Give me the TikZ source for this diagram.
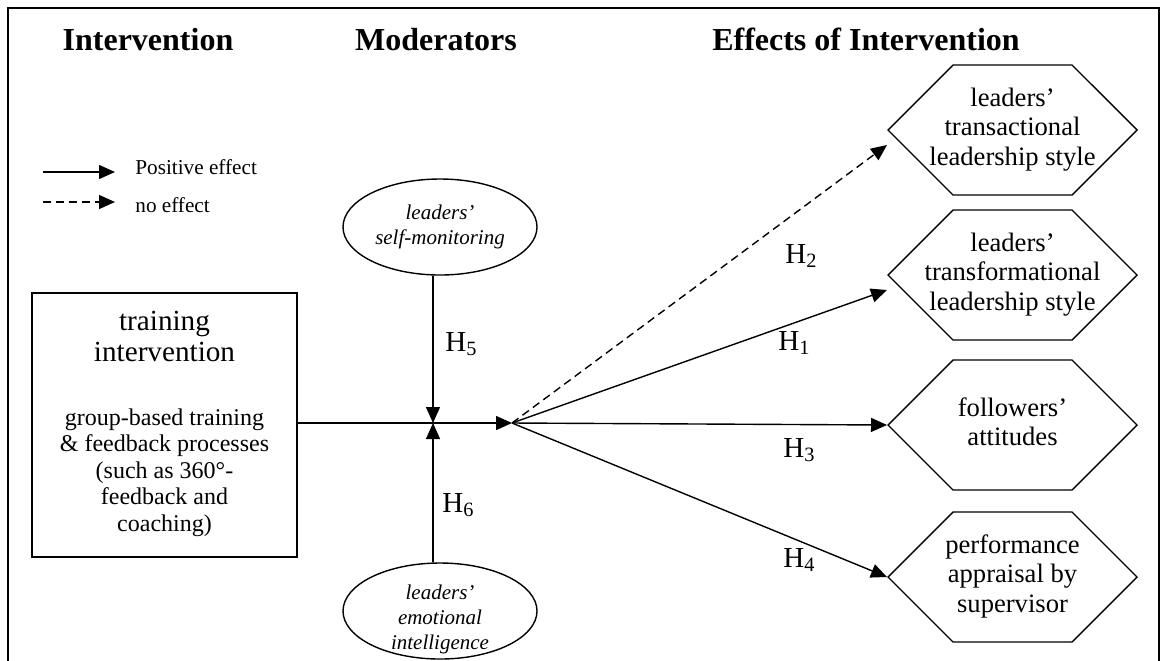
\documentclass[tikz,border=0pt]{standalone}
\usepackage{fontspec}
\setmainfont{Liberation Serif}
\usetikzlibrary{arrows.meta,shapes.geometric,shapes.symbols}

% Zeilen untereinander, zentriert
\newcommand{\stacklines}[1]{\begin{tabular}{@{}c@{}}#1\end{tabular}}
% Text im Sechseck darf ueber den Rand laufen
\newcommand{\outtext}[1]{\makebox[59.5pt]{\stacklines{#1}}}

\tikzset{
  effarrow/.style={-{Triangle[length=8pt,width=7pt]}, line width=0.7pt},
  nullarrow/.style={effarrow, dash pattern=on 4pt off 2.5pt},
  heading/.style={font=\fontsize{16}{19}\selectfont\bfseries, anchor=base, inner sep=0pt},
  legendtext/.style={font=\fontsize{10.6}{12}\selectfont, anchor=base west, inner sep=0pt},
  hlabel/.style={font=\fontsize{14.5}{17}\selectfont, anchor=base west, inner sep=0pt},
  trainbox/.style={draw, line width=0.7pt, minimum width=132.5pt, minimum height=132pt,
    inner sep=0pt, font=\fontsize{12}{13.25}\selectfont},
  moderator/.style={draw, ellipse, line width=0.7pt, minimum width=97pt, minimum height=48pt,
    inner sep=0pt, font=\fontsize{10.5}{12.5}\selectfont\itshape},
  outcome/.style={draw, shape=signal, signal to=west and east, signal from=nowhere,
    signal pointer angle=90, line width=0.7pt, minimum width=124.5pt, minimum height=65pt,
    inner sep=0pt, font=\fontsize{13.3}{14.75}\selectfont}
}

\begin{document}
\begin{tikzpicture}[x=0.5pt,y=-0.5pt]
  \useasboundingbox (0,0) rectangle (1161,660);

  % Rahmen, unten offen
  \draw[line width=1pt] (8,661) -- (8,8) -- (1159,8) -- (1159,661);

  % Ueberschriften
  \node[heading] (hdInt) at (148,50) {Intervention};
  \node[heading] (hdMod) at (436,50) {Moderators};
  \node[heading] (hdEff) at (866,50) {Effects of Intervention};

  % Legende
  \coordinate (posA) at (43,172);
  \coordinate (posB) at (115,172);
  \coordinate (nulA) at (43,202);
  \coordinate (nulB) at (115,202);
  \draw[effarrow] (posA) -- (posB);
  \draw[nullarrow] (nulA) -- (nulB);
  \node[legendtext] (legPos) at (135,174) {Positive effect};
  \node[legendtext] (legNul) at (135,212) {no effect};

  % Intervention
  \node[trainbox] (train) at (164.5,425) {\stacklines{%
    {\fontsize{14.6}{15}\selectfont training}\\[1.75pt]
    {\fontsize{14.6}{15}\selectfont intervention}\\[18.75pt]
    group-based training\\
    \& feedback processes\\
    (such as 360°-\\
    feedback and\\
    coaching)}};

  % Moderatoren
  \node[moderator] (selfmon) at (440,227) {\stacklines{leaders’\\self-monitoring}};
  \node[moderator] (emoint) at (440,611)
    {\raisebox{-7.1pt}[0pt][0pt]{\stacklines{leaders’\\emotional\\intelligence}}};

  % Effekte
  \node[outcome] (transact) at (1012.5,130) {\outtext{leaders’\\transactional\\leadership style}};
  \node[outcome] (transform) at (1012.5,275) {\outtext{leaders’\\transformational\\leadership style}};
  \node[outcome] (attitude) at (1012.5,425) {\outtext{followers’\\attitudes}};
  \node[outcome] (apprais) at (1012.5,577) {\outtext{performance\\appraisal by\\supervisor}};

  % Pfeile
  \coordinate (cross) at (433,423);
  \coordinate (fan) at (512,423);
  \draw[effarrow] (train.east |- fan) -- (fan);
  \draw[effarrow] ([xshift=-3.5pt]selfmon.south) -- (cross);
  \draw[effarrow] ([xshift=-3.5pt]emoint.north) -- (cross);
  \draw[nullarrow] (fan) -- ([yshift=-7.5pt]transact.west);
  \foreach \ziel/\dy in {transform/-7.5pt, attitude/0pt, apprais/0pt}
    \draw[effarrow] (fan) -- ([yshift=\dy]\ziel.west);

  % Hypothesen
  \foreach \n/\xx/\yy in {1/778/350, 2/785/263, 3/783/457, 4/783/567, 5/445/351, 6/442/512}
    \node[hlabel] (h\n) at (\xx,\yy) {H\textsubscript{\n}};

\end{tikzpicture}
\end{document}
